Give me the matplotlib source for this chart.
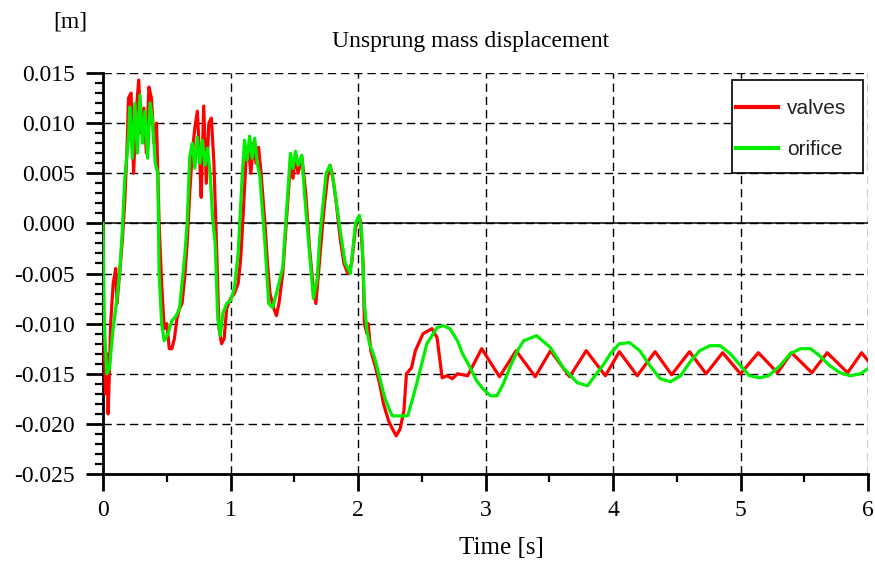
import matplotlib
matplotlib.use("Agg")
import matplotlib.pyplot as plt
from matplotlib.patches import Rectangle
from matplotlib.ticker import MultipleLocator, FormatStrFormatter

# ---------------- data ----------------
orifice_t = [0.00, 0.01, 0.03, 0.05, 0.08, 0.10, 0.13, 0.15, 0.17, 0.20, 0.21,
             0.23, 0.25, 0.27, 0.29, 0.31, 0.33, 0.35, 0.37, 0.39, 0.41, 0.43,
             0.44, 0.46, 0.48, 0.51, 0.54, 0.57, 0.60, 0.62, 0.64, 0.66, 0.68,
             0.70, 0.72, 0.74, 0.76, 0.78, 0.80, 0.82, 0.84, 0.86, 0.88, 0.90,
             0.92, 0.94, 0.97, 1.00, 1.03, 1.06, 1.09, 1.11, 1.13, 1.15, 1.17,
             1.19, 1.21, 1.23, 1.27, 1.30, 1.33, 1.36, 1.41, 1.44, 1.47, 1.49,
             1.51, 1.53, 1.56, 1.58, 1.62, 1.65, 1.68, 1.70, 1.75, 1.78, 1.81,
             1.86, 1.90, 1.94, 1.98, 2.01, 2.03, 2.05, 2.07, 2.09, 2.13, 2.17,
             2.21, 2.25, 2.27, 2.39, 2.43, 2.46, 2.50, 2.54, 2.57, 2.62, 2.67,
             2.72, 2.78, 2.82, 2.88, 2.93, 2.98, 3.04, 3.09, 3.14, 3.19, 3.25,
             3.30, 3.40, 3.51, 3.61, 3.72, 3.80, 3.87, 3.93, 3.98, 4.05, 4.13,
             4.21, 4.29, 4.37, 4.45, 4.53, 4.60, 4.68, 4.76, 4.84, 4.92, 5.00,
             5.07, 5.15, 5.22, 5.31, 5.39, 5.47, 5.55, 5.62, 5.70, 5.78, 5.86,
             5.94, 6.00]
orifice_v = [0.0000, -0.0100, -0.0150, -0.0145, -0.0104, -0.0085, -0.0050, -0.0010,
             0.0043, 0.0086, 0.0116, 0.0065, 0.0120, 0.0070, 0.0128, 0.0080,
             0.0112, 0.0065, 0.0120, 0.0100, 0.0060, 0.0050, -0.0050, -0.0100,
             -0.0117, -0.0110, -0.0097, -0.0093, -0.0085, -0.0060, -0.0034,
             0.0000, 0.0066, 0.0080, 0.0055, 0.0086, 0.0060, 0.0083, 0.0058,
             0.0075, 0.0050, 0.0005, -0.0020, -0.0095, -0.0112, -0.0090, -0.0080,
             -0.0077, -0.0065, -0.0030, 0.0043, 0.0083, 0.0063, 0.0087, 0.0065,
             0.0085, 0.0060, 0.0047, -0.0020, -0.0080, -0.0084, -0.0070, -0.0044,
             0.0013, 0.0070, 0.0055, 0.0072, 0.0058, 0.0068, 0.0030, -0.0030,
             -0.0075, -0.0055, -0.0014, 0.0050, 0.0058, 0.0040, -0.0007, -0.0040,
             -0.0050, 0.0000, 0.0008, -0.0010, -0.0080, -0.0107, -0.0120,
             -0.0134, -0.0154, -0.0174, -0.0187, -0.0192, -0.0192, -0.0174,
             -0.0160, -0.0140, -0.0120, -0.0114, -0.0104, -0.0102, -0.0105,
             -0.0117, -0.0130, -0.0144, -0.0157, -0.0165, -0.0172, -0.0172,
             -0.0160, -0.0144, -0.0127, -0.0117, -0.0112, -0.0124, -0.0144,
             -0.0159, -0.0162, -0.0150, -0.0140, -0.0130, -0.0120, -0.0119,
             -0.0127, -0.0142, -0.0155, -0.0158, -0.0152, -0.0139, -0.0127,
             -0.0122, -0.0122, -0.0130, -0.0142, -0.0152, -0.0154, -0.0152,
             -0.0142, -0.0130, -0.0125, -0.0125, -0.0132, -0.0142, -0.0149,
             -0.0152, -0.0150, -0.0145]

valves_t = [0.00, 0.005, 0.02, 0.03, 0.04, 0.05, 0.06, 0.08, 0.10, 0.11, 0.13,
            0.15, 0.17, 0.19, 0.20, 0.22, 0.24, 0.26, 0.28, 0.30, 0.32, 0.34,
            0.36, 0.38, 0.40, 0.42, 0.44, 0.46, 0.48, 0.50, 0.52, 0.54, 0.56,
            0.58, 0.60, 0.62, 0.64, 0.66, 0.68, 0.70, 0.72, 0.74, 0.76, 0.77,
            0.79, 0.81, 0.83, 0.85, 0.87, 0.89, 0.91, 0.93, 0.95, 0.97, 1.00,
            1.03, 1.06, 1.08, 1.10, 1.12, 1.14, 1.16, 1.18, 1.20, 1.22, 1.24,
            1.27, 1.29, 1.31, 1.34, 1.36, 1.38, 1.41, 1.44, 1.47, 1.49, 1.51,
            1.53, 1.56, 1.59, 1.62, 1.65, 1.67, 1.70, 1.73, 1.76, 1.78, 1.80,
            1.83, 1.86, 1.89, 1.92, 1.95, 1.98, 2.00, 2.02, 2.04, 2.05, 2.07,
            2.08, 2.10, 2.13, 2.17, 2.20, 2.24, 2.27, 2.30, 2.33, 2.36, 2.38,
            2.42, 2.45, 2.51, 2.58, 2.62, 2.66, 2.70, 2.74, 2.78, 2.86, 2.97,
            3.11, 3.24, 3.39, 3.51, 3.66, 3.79, 3.94, 4.05, 4.19, 4.33, 4.46,
            4.60, 4.73, 4.86, 5.00, 5.14, 5.29, 5.40, 5.56, 5.68, 5.84, 5.95,
            6.00]
valves_v = [0.0000, -0.0100, -0.0170, -0.0130, -0.0190, -0.0150, -0.0100,
            -0.0060, -0.0045, -0.0080, -0.0050, -0.0020, 0.0020, 0.0080, 0.0125,
            0.0130, 0.0050, 0.0110, 0.0143, 0.0090, 0.0115, 0.0070, 0.0136,
            0.0125, 0.0080, 0.0100, 0.0000, -0.0060, -0.0105, -0.0100, -0.0125,
            -0.0125, -0.0115, -0.0095, -0.0085, -0.0080, -0.0055, -0.0020,
            0.0030, 0.0070, 0.0095, 0.0112, 0.0060, 0.0026, 0.0117, 0.0040,
            0.0100, 0.0105, 0.0060, -0.0020, -0.0105, -0.0120, -0.0115, -0.0085,
            -0.0075, -0.0070, -0.0060, -0.0035, 0.0010, 0.0060, 0.0075, 0.0050,
            0.0080, 0.0060, 0.0076, 0.0050, 0.0000, -0.0040, -0.0070, -0.0085,
            -0.0092, -0.0080, -0.0050, 0.0005, 0.0060, 0.0045, 0.0068, 0.0050,
            0.0066, 0.0030, -0.0025, -0.0065, -0.0080, -0.0035, 0.0010, 0.0045,
            0.0058, 0.0048, 0.0020, -0.0015, -0.0040, -0.0050, -0.0040, -0.0005,
            0.0005, 0.0003, -0.0040, -0.0100, -0.0110, -0.0100, -0.0127, -0.0140,
            -0.0160, -0.0180, -0.0197, -0.0205, -0.0212, -0.0205, -0.0187,
            -0.0150, -0.0144, -0.0127, -0.0110, -0.0105, -0.0114, -0.0154,
            -0.0152, -0.0155, -0.0150, -0.0152, -0.0125, -0.0153, -0.0127,
            -0.0153, -0.0127, -0.0153, -0.0127, -0.0152, -0.0128, -0.0152,
            -0.0128, -0.0151, -0.0128, -0.0150, -0.0129, -0.0150, -0.0129,
            -0.0149, -0.0129, -0.0149, -0.0129, -0.0149, -0.0129, -0.0137]

series_labels = ["valves", "orifice"]
series_colors = ["#ff0000", "#00ee00"]
x_ticks = [0, 1, 2, 3, 4, 5, 6]
y_ticks = [0.015, 0.010, 0.005, 0.000, -0.005, -0.010, -0.015, -0.020, -0.025]
title_text = "Unsprung mass displacement"
x_label = "Time [s]"
y_unit = "[m]"

# ---------------- figure ----------------
serif = "Liberation Serif"
W, H = 875, 563
L, R, T, B = 103, 868, 73, 474
fig = plt.figure(figsize=(W / 100, H / 100), dpi=100)
ax = fig.add_axes([L / W, 1 - B / H, (R - L) / W, (B - T) / H])

ax.plot(valves_t, valves_v, color=series_colors[0], lw=2.3,
        label=series_labels[0], zorder=3)
ax.plot(orifice_t, orifice_v, color=series_colors[1], lw=2.3,
        label=series_labels[1], zorder=4)

ax.set_xlim(0, 6)
ax.set_ylim(-0.025, 0.015)
ax.set_xticks(x_ticks)
ax.set_yticks(y_ticks)
ax.xaxis.set_minor_locator(MultipleLocator(0.5))
ax.yaxis.set_minor_locator(MultipleLocator(0.001))
ax.yaxis.set_major_formatter(FormatStrFormatter("%.3f"))

ax.grid(True, which="major", color="black", lw=1.0, linestyle=(0, (6, 3.5)))
ax.axhline(0, color="black", lw=1.1, zorder=2)

for s in ("top", "right"):
    ax.spines[s].set_visible(False)
for s in ("left", "bottom"):
    ax.spines[s].set_linewidth(2.0)

ax.tick_params(which="major", direction="out", length=12, width=2.0,
               labelsize=17, pad=7)
ax.tick_params(axis="y", which="major", pad=8)
ax.tick_params(which="minor", direction="out", length=6, width=1.6)
for lbl in ax.get_xticklabels() + ax.get_yticklabels():
    lbl.set_fontfamily(serif)

# legend: white framed box plus entries
def ax_x(px):
    return (px - L) / (R - L)

def ax_y(py):
    return (B - py) / (B - T)

box = Rectangle((ax_x(732), ax_y(173)), ax_x(863) - ax_x(732),
                ax_y(80) - ax_y(173), transform=ax.transAxes,
                facecolor="white", edgecolor="black", lw=1.2, zorder=9)
ax.add_patch(box)
leg = ax.legend(loc="upper left", bbox_to_anchor=(ax_x(736), ax_y(99)),
                prop={"family": "Liberation Sans", "size": 15},
                frameon=False, borderpad=0, labelspacing=1.05,
                handlelength=2.0, handletextpad=0.45, borderaxespad=0)
for line in leg.get_lines():
    line.set_linewidth(3.0)
for txt in leg.get_texts():
    txt.set_color("#222222")
leg.set_zorder(10)

fig.text(471 / W, 1 - 42 / H, title_text, family=serif, fontsize=17,
         ha="center", va="center")
fig.text(70 / W, 1 - 22 / H, y_unit, family=serif, fontsize=17,
         ha="center", va="center")
fig.text(501 / W, 1 - 548 / H, x_label, family=serif, fontsize=18,
         ha="center", va="center")

fig.savefig("out.png", dpi=100)
